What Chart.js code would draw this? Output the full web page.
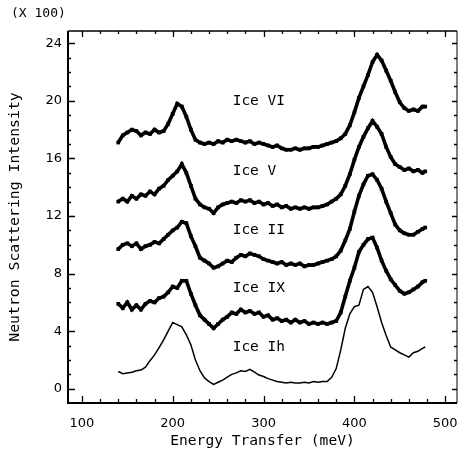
<!DOCTYPE html>
<html><head><meta charset="utf-8">
<script src="https://cdn.jsdelivr.net/npm/chart.js@4.4.0/dist/chart.umd.min.js"></script>
<style>html,body{margin:0;padding:0;background:#fff;overflow:hidden}</style>
</head><body>
<canvas id="c" width="461" height="455" style="width:461px;height:455px;display:block"></canvas>
<script>
const energy = [140,145,150,155,160,165,170,175,180,185,190,195,200,205,210,215,220,225,230,235,240,245,250,255,260,265,270,275,280,285,290,295,300,305,310,315,320,325,330,335,340,345,350,355,360,365,370,375,380,385,390,395,400,405,410,415,420,425,430,435,440,445,450,455,460,465,470,475,478];
const iceVI = [17.1,17.6,17.8,18.0,17.9,17.6,17.8,17.7,18.0,17.8,17.9,18.4,19.1,19.8,19.6,18.9,18.0,17.3,17.1,17.0,17.1,17.0,17.2,17.1,17.3,17.2,17.3,17.2,17.1,17.2,17.0,17.1,17.0,16.9,16.8,16.9,16.7,16.6,16.6,16.7,16.6,16.7,16.7,16.8,16.8,16.9,17.0,17.1,17.2,17.4,17.7,18.3,19.2,20.2,21.0,21.8,22.7,23.2,22.8,22.1,21.4,20.6,19.9,19.5,19.3,19.4,19.3,19.6,19.6];
const iceV = [13.0,13.2,13.0,13.4,13.2,13.5,13.4,13.7,13.5,13.9,14.1,14.5,14.8,15.1,15.6,15.0,14.1,13.2,12.8,12.6,12.5,12.2,12.6,12.8,12.9,13.0,12.9,13.1,13.0,13.1,12.9,13.0,12.8,12.9,12.7,12.8,12.6,12.7,12.5,12.6,12.5,12.6,12.5,12.6,12.6,12.7,12.8,13.0,13.2,13.5,14.1,14.9,15.9,16.8,17.5,18.1,18.6,18.2,17.7,16.8,16.1,15.6,15.4,15.2,15.3,15.1,15.2,15.0,15.1];
const iceII = [9.7,10.0,10.1,9.9,10.1,9.7,9.9,10.0,10.2,10.1,10.4,10.7,11.0,11.2,11.6,11.5,10.6,9.9,9.1,8.9,8.7,8.4,8.5,8.7,8.9,8.8,9.1,9.3,9.2,9.4,9.3,9.2,9.0,8.9,8.8,8.7,8.8,8.6,8.7,8.6,8.7,8.5,8.6,8.6,8.7,8.8,8.9,9.0,9.2,9.6,10.3,11.1,12.3,13.4,14.2,14.8,14.9,14.5,13.9,13.0,12.2,11.4,11.0,10.8,10.7,10.7,10.9,11.1,11.2];
const iceIX = [5.9,5.6,6.0,5.5,5.8,5.5,5.9,6.1,6.0,6.3,6.4,6.7,7.1,7.0,7.5,7.5,6.6,5.8,5.1,4.8,4.5,4.2,4.5,4.8,5.0,5.3,5.2,5.5,5.3,5.4,5.2,5.3,5.0,5.1,4.8,4.9,4.7,4.8,4.6,4.8,4.6,4.7,4.5,4.6,4.5,4.6,4.5,4.6,4.7,5.3,6.4,7.5,8.4,9.5,10.0,10.4,10.5,9.8,8.9,8.2,7.6,7.2,6.8,6.6,6.7,6.9,7.1,7.4,7.5];
const iceIh = [1.2,1.05,1.1,1.15,1.25,1.3,1.5,1.95,2.35,2.85,3.4,4.0,4.6,4.45,4.3,3.75,3.05,2.0,1.25,0.75,0.5,0.3,0.45,0.6,0.8,1.0,1.1,1.25,1.2,1.35,1.15,0.95,0.85,0.7,0.6,0.5,0.45,0.4,0.45,0.4,0.4,0.45,0.4,0.5,0.45,0.5,0.5,0.8,1.4,2.7,4.2,5.2,5.7,5.8,6.9,7.1,6.7,5.7,4.6,3.7,2.9,2.7,2.5,2.35,2.2,2.5,2.6,2.8,2.9];
const seriesNames = ['Ice VI','Ice V','Ice II','Ice IX','Ice Ih'];
const labelEnergy = 266;
const labelLevels = [20.0,15.1,11.0,7.0,2.85];
const xTickValues = [100,200,300,400,500];
const yTickValues = [0,4,8,12,16,20,24];
const scaleNote = '(X 100)';

const MONO = '"DejaVu Sans Mono", monospace';
const SANS = '"DejaVu Sans", sans-serif';

function pts(arr){ return energy.map((e,i)=>({x:e,y:arr[i]})); }
const noisy = (name, arr) => ({label:name, data:pts(arr), borderColor:'#000', backgroundColor:'#000',
  borderWidth:3.6, pointStyle:'rect', pointRadius:2.6, pointBorderWidth:0, tension:0});

const decor = {
  id:'decor',
  afterDraw(chart){
    const {ctx, chartArea:a, scales:{x,y}} = chart;
    ctx.save();
    ctx.strokeStyle='#000';
    ctx.lineWidth=2;
    ctx.beginPath();
    ctx.moveTo(a.left,a.top); ctx.lineTo(a.left,a.bottom); ctx.lineTo(a.right,a.bottom);
    ctx.stroke();
    ctx.lineWidth=1.3;
    ctx.beginPath();
    ctx.moveTo(a.left,a.top); ctx.lineTo(a.right,a.top);
    ctx.stroke();
    ctx.lineWidth=1;
    ctx.beginPath();
    ctx.moveTo(a.right,a.top); ctx.lineTo(a.right,a.bottom);
    ctx.stroke();
    ctx.lineWidth=1.3;
    ctx.beginPath();
    for(let v=100; v<=500; v+=20){
      const px = Math.round(x.getPixelForValue(v))+0.5;
      const major = v%100===0;
      ctx.moveTo(px,a.bottom); ctx.lineTo(px,a.bottom-(major?7:4));
      ctx.moveTo(px,a.top); ctx.lineTo(px,a.top+(major?6:3));
    }
    for(let v=0; v<=24; v+=1){
      const py = Math.round(y.getPixelForValue(v))+0.5;
      const major = v%4===0;
      ctx.moveTo(a.left,py); ctx.lineTo(a.left+(major?7:3),py);
      ctx.moveTo(a.right,py); ctx.lineTo(a.right-(major?5:3),py);
    }
    ctx.stroke();
    ctx.fillStyle='#000';
    ctx.font='14.5px '+MONO;
    ctx.textAlign='left'; ctx.textBaseline='middle';
    seriesNames.forEach((n,i)=>{
      ctx.fillText(n, x.getPixelForValue(labelEnergy), y.getPixelForValue(labelLevels[i]));
    });
    ctx.font='13px '+MONO;
    ctx.fillText(scaleNote, 11, 14);
    ctx.restore();
  }
};

new Chart(document.getElementById('c'), {
  type:'line',
  data:{datasets:[
    noisy(seriesNames[0], iceVI),
    noisy(seriesNames[1], iceV),
    noisy(seriesNames[2], iceII),
    noisy(seriesNames[3], iceIX),
    {label:seriesNames[4], data:pts(iceIh), borderColor:'#000', borderWidth:1.5, pointRadius:0, tension:0}
  ]},
  options:{
    responsive:false, animation:false, devicePixelRatio:1,
    layout:{padding:{top:31,right:1,left:0,bottom:0}},
    plugins:{legend:{display:false}, tooltip:{enabled:false}},
    scales:{
      x:{type:'linear', min:84.7, max:513,
        afterBuildTicks:s=>{s.ticks = xTickValues.map(v=>({value:v}));},
        afterFit:s=>{s.height=52; s.paddingLeft=0; s.paddingRight=0;},
        ticks:{font:{family:SANS,size:13}, color:'#000', padding:13, maxRotation:0},
        grid:{display:false, drawTicks:false}, border:{display:false},
        title:{display:true, text:'Energy Transfer (meV)', color:'#000', font:{family:MONO,size:14.6}, padding:{top:0,bottom:5}}
      },
      y:{type:'linear', min:-0.99, max:24.85,
        afterBuildTicks:s=>{s.ticks = yTickValues.map(v=>({value:v}));},
        afterFit:s=>{s.width=68; s.paddingTop=0; s.paddingBottom=0;},
        ticks:{font:{family:SANS,size:13}, color:'#000', padding:6},
        grid:{display:false, drawTicks:false}, border:{display:false},
        title:{display:true, text:'Neutron Scattering Intensity', color:'#000', font:{family:MONO,size:14.8}, padding:{top:6,bottom:0}}
      }
    }
  },
  plugins:[decor]
});
</script>
</body></html>
